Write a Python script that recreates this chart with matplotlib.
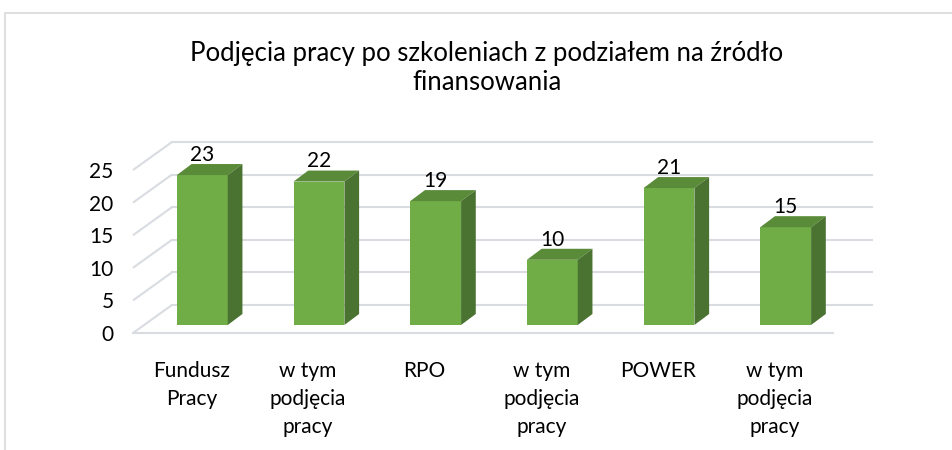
import matplotlib
matplotlib.use("Agg")
import matplotlib.pyplot as plt
from matplotlib.patches import Polygon, Rectangle

plt.rcParams['font.family'] = ['Lato', 'DejaVu Sans']

title = "Podjęcia pracy po szkoleniach z podziałem na źródło\nfinansowania"
categories = ["Fundusz\nPracy", "w tym\npodjęcia\npracy", "RPO",
              "w tym\npodjęcia\npracy", "POWER", "w tym\npodjęcia\npracy"]
values = [23, 22, 19, 10, 21, 15]
yticks = [0, 5, 10, 15, 20, 25]

# pseudo-3D geometry (data units)
wall_dx, wall_dy = 0.334, 4.3      # back wall offset
face_dx, face_dy = 0.094, 1.23     # bar front face offset from floor front
bar_dx, bar_dy = 0.126, 1.69       # bar depth
bar_w = 0.436

c_front = '#70AD47'
c_top = '#598B39'
c_side = '#4A7230'
c_grid = '#D9DCE1'

fig = plt.figure(figsize=(9.52, 4.5), dpi=100)
fig.patches.append(Rectangle((5 / 952, -0.1), 1.1, 1.1 - 13 / 450,
                             transform=fig.transFigure, fill=False,
                             edgecolor='#D9D9D9', lw=1.2))

ax = fig.add_axes([133 / 952, 117 / 450, 739 / 952, 191 / 450])
ax.set_xlim(-0.5, 5.5 + wall_dx)
ax.set_ylim(0, yticks[-1] + wall_dy)
for s in ax.spines.values():
    s.set_visible(False)

# grid: slanted side + back wall lines
x0 = -0.5
x1 = len(values) - 0.5
for t in yticks:
    ax.plot([x0, x0 + wall_dx], [t, t + wall_dy], color=c_grid, lw=1.5,
            zorder=1, clip_on=False, solid_capstyle='butt')
    ax.plot([x0 + wall_dx, x1 + wall_dx], [t + wall_dy, t + wall_dy],
            color=c_grid, lw=1.5, zorder=1, clip_on=False)
ax.plot([x0, x1], [0, 0], color=c_grid, lw=1.5, zorder=1, clip_on=False)

# bars
for i, v in enumerate(values):
    l = i - bar_w / 2 + face_dx
    r = i + bar_w / 2 + face_dx
    b = face_dy
    t = v + face_dy
    ax.add_patch(Polygon([(l, b), (r, b), (r, t), (l, t)], closed=True,
                         facecolor=c_front, edgecolor='none', zorder=3))
    ax.add_patch(Polygon([(l, t), (r, t), (r + bar_dx, t + bar_dy),
                          (l + bar_dx, t + bar_dy)], closed=True,
                         facecolor=c_top, edgecolor='none', zorder=3))
    ax.add_patch(Polygon([(r, b), (r + bar_dx, b + bar_dy),
                          (r + bar_dx, t + bar_dy), (r, t)], closed=True,
                         facecolor=c_side, edgecolor='none', zorder=3))
    ax.text(i + face_dx, t + bar_dy + 0.5, str(v), ha='center',
            va='baseline', fontsize=15, color='#000000', zorder=4)

ax.set_yticks(yticks)
ax.set_yticklabels([str(t) for t in yticks], fontsize=15)
ax.set_xticks(range(len(categories)))
ax.set_xticklabels(categories, fontsize=15, linespacing=1.5)
ax.tick_params(axis='y', length=0, pad=14)
ax.tick_params(axis='x', length=0, pad=20)

fig.text(487 / 952, 1 - 41 / 450, title, ha='center', va='top',
         fontsize=18.5, linespacing=1.2, color='#000000')

fig.savefig('out.png', dpi=100)
